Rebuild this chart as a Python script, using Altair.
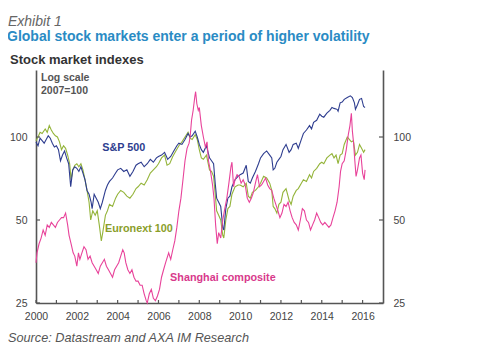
import altair as alt
import pandas as pd

# ---------------- data (2007=100, log scale) ----------------
sp_t = [2000.0, 2000.1, 2000.2, 2000.3, 2000.4, 2000.5, 2000.6, 2000.7, 2000.8, 2000.9,
        2001.0, 2001.1, 2001.2, 2001.3, 2001.4, 2001.5, 2001.6, 2001.7, 2001.8, 2001.9,
        2002.0, 2002.1, 2002.2, 2002.3, 2002.4, 2002.5, 2002.6, 2002.7, 2002.75, 2002.85,
        2002.95, 2003.05, 2003.15, 2003.25, 2003.4, 2003.5, 2003.6, 2003.75, 2003.9, 2004.0,
        2004.15, 2004.3, 2004.45, 2004.6, 2004.75, 2004.9, 2005.0, 2005.15, 2005.3, 2005.45,
        2005.6, 2005.75, 2005.9, 2006.0, 2006.15, 2006.3, 2006.45, 2006.6, 2006.75, 2006.9,
        2007.0, 2007.15, 2007.3, 2007.45, 2007.55, 2007.65, 2007.8, 2007.9, 2008.0, 2008.1,
        2008.2, 2008.35, 2008.5, 2008.6, 2008.7, 2008.78, 2008.85, 2008.95, 2009.05, 2009.15,
        2009.2, 2009.3, 2009.4, 2009.5, 2009.6, 2009.75, 2009.9, 2010.0, 2010.15, 2010.3,
        2010.4, 2010.5, 2010.6, 2010.75, 2010.9, 2011.0, 2011.15, 2011.3, 2011.45, 2011.55,
        2011.62, 2011.7, 2011.8, 2011.9, 2012.0, 2012.1, 2012.25, 2012.4, 2012.5, 2012.6,
        2012.75, 2012.85, 2013.0, 2013.1, 2013.25, 2013.4, 2013.5, 2013.6, 2013.75, 2013.9,
        2014.0, 2014.1, 2014.25, 2014.4, 2014.5, 2014.6, 2014.75, 2014.8, 2014.9, 2015.0,
        2015.1, 2015.25, 2015.4, 2015.5, 2015.6, 2015.65, 2015.75, 2015.85, 2015.95, 2016.05,
        2016.12]
sp_v = [96, 93, 99, 97, 95, 98, 101, 99, 95, 92,
        93, 90, 82, 86, 89, 84, 80, 66, 76, 78,
        77, 75, 78, 74, 70, 64, 62, 58, 55, 62,
        60, 58, 55, 58, 64, 67, 69, 71, 74, 76,
        77, 75, 76, 72, 75, 79, 80, 81, 78, 80,
        83, 81, 84, 85, 86, 88, 83, 85, 89, 93,
        95, 94, 98, 103, 100, 101, 105, 100, 94, 90,
        88, 93, 84, 82, 80, 68, 60, 58, 56, 47,
        46, 55, 60, 61, 66, 70, 72, 73, 74, 79,
        69, 68, 71, 75, 80, 84, 87, 89, 86, 84,
        76, 77, 81, 83, 85, 90, 94, 88, 90, 94,
        95, 91, 98, 103, 106, 110, 107, 113, 115, 121,
        119, 118, 122, 125, 128, 127, 126, 124, 133, 134,
        137, 139, 141, 139, 133, 126, 131, 137, 138, 129,
        128]

eu_t = [2000.0, 2000.1, 2000.2, 2000.3, 2000.45, 2000.55, 2000.65, 2000.75, 2000.85, 2000.95,
        2001.05, 2001.15, 2001.25, 2001.35, 2001.45, 2001.55, 2001.65, 2001.72, 2001.8, 2001.9,
        2002.0, 2002.1, 2002.2, 2002.3, 2002.4, 2002.5, 2002.6, 2002.68, 2002.78, 2002.9,
        2003.0, 2003.1, 2003.2, 2003.27, 2003.4, 2003.5, 2003.6, 2003.75, 2003.9, 2004.0,
        2004.15, 2004.3, 2004.45, 2004.6, 2004.75, 2004.9, 2005.0, 2005.15, 2005.3, 2005.45,
        2005.6, 2005.75, 2005.9, 2006.0, 2006.15, 2006.3, 2006.42, 2006.55, 2006.7, 2006.85,
        2007.0, 2007.15, 2007.3, 2007.45, 2007.55, 2007.65, 2007.8, 2007.9, 2008.0, 2008.1,
        2008.2, 2008.35, 2008.5, 2008.6, 2008.7, 2008.78, 2008.85, 2008.95, 2009.05, 2009.15,
        2009.2, 2009.3, 2009.4, 2009.5, 2009.6, 2009.75, 2009.9, 2010.0, 2010.15, 2010.3,
        2010.4, 2010.5, 2010.6, 2010.75, 2010.9, 2011.0, 2011.15, 2011.3, 2011.45, 2011.55,
        2011.62, 2011.7, 2011.8, 2011.9, 2012.0, 2012.1, 2012.25, 2012.4, 2012.5, 2012.6,
        2012.75, 2012.85, 2013.0, 2013.1, 2013.25, 2013.4, 2013.5, 2013.6, 2013.75, 2013.9,
        2014.0, 2014.1, 2014.25, 2014.4, 2014.5, 2014.6, 2014.7, 2014.8, 2014.9, 2015.0,
        2015.1, 2015.25, 2015.35, 2015.45, 2015.55, 2015.65, 2015.75, 2015.85, 2015.95, 2016.05,
        2016.12]
eu_v = [97, 100, 104, 103, 107, 104, 110, 106, 103, 101,
        100, 96, 90, 93, 91, 86, 80, 70, 76, 79,
        80, 78, 80, 76, 70, 64, 58, 50, 54, 52,
        54, 48, 42, 45, 52, 54, 57, 56, 60, 62,
        64, 63, 61, 60, 62, 65, 66, 68, 67, 70,
        74, 76, 78, 80, 84, 86, 79, 80, 85, 89,
        93, 96, 100, 104, 99, 98, 102, 98, 90, 84,
        83, 86, 76, 75, 72, 62, 54, 52, 50, 44,
        43, 50, 55, 56, 62, 66, 67, 67, 66, 68,
        61, 60, 63, 64, 66, 68, 72, 71, 68, 64,
        56, 55, 53, 57, 58, 63, 65, 59, 57, 61,
        64, 65, 68, 70, 69, 73, 71, 75, 77, 80,
        81, 80, 84, 86, 87, 84, 86, 80, 86, 87,
        94, 100, 98, 96, 97, 86, 88, 94, 91, 88,
        90]

sh_t = [2000.0, 2000.05, 2000.15, 2000.25, 2000.35, 2000.45, 2000.55, 2000.65, 2000.75, 2000.85,
        2000.95, 2001.05, 2001.15, 2001.25, 2001.35, 2001.45, 2001.55, 2001.62, 2001.72, 2001.82,
        2001.9, 2002.0, 2002.08, 2002.15, 2002.25, 2002.35, 2002.45, 2002.55, 2002.65, 2002.75,
        2002.85, 2002.95, 2003.05, 2003.15, 2003.25, 2003.35, 2003.45, 2003.55, 2003.65, 2003.75,
        2003.85, 2003.95, 2004.05, 2004.15, 2004.25, 2004.32, 2004.4, 2004.5, 2004.6, 2004.7,
        2004.8, 2004.9, 2005.0, 2005.1, 2005.2, 2005.3, 2005.4, 2005.45, 2005.55, 2005.65,
        2005.75, 2005.85, 2005.95, 2006.05, 2006.15, 2006.25, 2006.35, 2006.5, 2006.6, 2006.7,
        2006.8, 2006.9, 2007.0, 2007.1, 2007.2, 2007.3, 2007.4, 2007.5, 2007.55, 2007.62,
        2007.7, 2007.78, 2007.82, 2007.88, 2007.95, 2008.0, 2008.1, 2008.2, 2008.3, 2008.38,
        2008.45, 2008.55, 2008.65, 2008.72, 2008.8, 2008.88, 2008.95, 2009.05, 2009.15, 2009.25,
        2009.35, 2009.45, 2009.55, 2009.6, 2009.68, 2009.75, 2009.85, 2009.95, 2010.05, 2010.15,
        2010.25, 2010.35, 2010.45, 2010.55, 2010.65, 2010.75, 2010.85, 2010.95, 2011.05, 2011.15,
        2011.25, 2011.35, 2011.45, 2011.55, 2011.65, 2011.75, 2011.85, 2011.95, 2012.05, 2012.15,
        2012.25, 2012.35, 2012.45, 2012.55, 2012.65, 2012.75, 2012.85, 2012.95, 2013.05, 2013.15,
        2013.25, 2013.35, 2013.45, 2013.55, 2013.65, 2013.75, 2013.85, 2013.95, 2014.05, 2014.15,
        2014.25, 2014.35, 2014.45, 2014.55, 2014.65, 2014.75, 2014.85, 2014.92, 2015.0, 2015.1,
        2015.2, 2015.3, 2015.38, 2015.45, 2015.5, 2015.56, 2015.62, 2015.68, 2015.75, 2015.85,
        2015.92, 2016.0, 2016.08, 2016.12]
sh_v = [35, 38, 41, 43, 46, 44, 48, 47, 49, 48,
        47, 49, 50, 51, 51, 53, 48, 44, 41, 38,
        37, 34, 38, 36, 38, 40, 39, 36, 37, 35,
        34, 33, 32, 34, 35, 36, 34, 33, 32, 31,
        33, 34, 35, 37, 39, 38, 35, 33, 32, 33,
        31, 30, 30, 29, 29, 27, 25.5, 25, 27, 28,
        26, 25.5, 26.5, 28, 31, 33, 35, 38, 36, 39,
        42, 47, 54, 60, 70, 82, 91, 95, 100, 115,
        125, 140, 146, 132, 125, 128, 110, 100, 92, 96,
        82, 75, 67, 60, 48, 41, 45, 43, 50, 55,
        60, 68, 78, 81, 66, 70, 73, 72, 68, 70,
        67, 60, 58, 60, 63, 68, 73, 66, 67, 69,
        71, 67, 65, 64, 60, 57, 54, 51, 53, 57,
        56, 58, 54, 51, 49, 48, 46, 50, 55, 54,
        50, 49, 46, 48, 50, 53, 51, 49, 48, 49,
        48, 47, 48, 51, 54, 58, 66, 75, 80, 82,
        90, 102, 110, 122, 105, 95, 82, 72, 76, 84,
        86, 74, 70, 76]

series_names = ["Euronext 100", "S&P 500", "Shanghai composite"]
series_colors = ["#94b43a", "#2e3d8f", "#e8439a"]

year_ticks = list(range(2000, 2017))
x_labels = [2000, 2002, 2004, 2006, 2008, 2010, 2012, 2014, 2016]
y_ticks = [25, 50, 100]

label_names = ["S&P 500", "Euronext 100", "Shanghai composite"]
label_x = [2003.25, 2003.38, 2006.57]
label_y = [91.2, 46.4, 30.8]
label_colors = ["#2e3d8f", "#8a9e2a", "#d83a8c"]

# ---------------- build tables ----------------
rows = []
for name, ts, vs in [("Euronext 100", eu_t, eu_v), ("S&P 500", sp_t, sp_v),
                     ("Shanghai composite", sh_t, sh_v)]:
    for i, (t, v) in enumerate(zip(ts, vs)):
        rows.append({"year": t, "value": v, "series": name, "i": i})
df = pd.DataFrame(rows)

W, H = 347, 233
FONT = "Liberation Sans"
AX = "#555555"

xs = alt.Scale(domain=[2000, 2017], nice=False, zero=False)
ys = alt.Scale(type="log", domain=[25, 175], nice=False)

lines = alt.Chart(df).mark_line(strokeWidth=1.1).encode(
    x=alt.X("year:Q", scale=xs,
            axis=alt.Axis(values=x_labels, format="d", title=None, grid=False, ticks=False,
                          domain=True, domainColor=AX, domainWidth=1.6, labelFlush=False,
                          labelFontSize=10.5, labelColor="#444", labelFont=FONT,
                          labelPadding=8)),
    y=alt.Y("value:Q", scale=ys,
            axis=alt.Axis(values=y_ticks, format="d", title=None, grid=False, ticks=False,
                          orient="left", domain=True, domainColor=AX, domainWidth=1.6,
                          labelFontSize=10.5, labelColor="#444", labelFont=FONT,
                          labelPadding=9, labelFlush=False)),
    color=alt.Color("series:N", scale=alt.Scale(domain=series_names, range=series_colors),
                    legend=None),
    order="i:Q",
)

xt = pd.DataFrame({"t": year_ticks})
bottom_ticks = alt.Chart(xt).mark_rule(color=AX, strokeWidth=1.2).encode(
    x=alt.X("t:Q", scale=xs, axis=None),
    y=alt.value(H - 3), y2=alt.value(H),
)

yt = pd.DataFrame({"v": y_ticks})
left_ticks = alt.Chart(yt).mark_rule(color=AX, strokeWidth=1.2).encode(
    y=alt.Y("v:Q", scale=ys, axis=None),
    x=alt.value(0), x2=alt.value(4),
)
right_ticks = alt.Chart(yt).mark_rule(color=AX, strokeWidth=1.2).encode(
    y=alt.Y("v:Q", scale=ys,
            axis=alt.Axis(values=y_ticks, format="d", title=None, grid=False, ticks=False,
                          orient="right", domain=True, domainColor=AX, domainWidth=1.6,
                          labelFontSize=10.5, labelColor="#444", labelFont=FONT,
                          labelPadding=10, labelFlush=False)),
    x=alt.value(W - 4), x2=alt.value(W),
)

lab_df = pd.DataFrame({"name": label_names, "x": label_x, "y": label_y, "c": label_colors})
labels = alt.Chart(lab_df).mark_text(align="left", baseline="middle", fontWeight="bold",
                                     fontSize=10.8, font=FONT).encode(
    x=alt.X("x:Q", scale=xs, axis=None),
    y=alt.Y("y:Q", scale=ys, axis=None),
    text="name:N",
    color=alt.Color("c:N", scale=None),
)


def txt(s, x, y, size, color, weight="normal", style="normal"):
    return alt.Chart(pd.DataFrame({"s": [s]})).mark_text(
        align="left", baseline="middle", fontSize=size, color=color,
        fontWeight=weight, fontStyle=style, font=FONT,
    ).encode(text="s:N", x=alt.value(x), y=alt.value(y))


texts = [
    txt("Exhibit 1", -28, -48, 14, "#666666", style="italic"),
    txt("Global stock markets enter a period of higher volatility", -29, -33, 14,
        "#2a8bc4", weight="bold"),
    txt("Stock market indexes", -26, -10.5, 13, "#333333", weight="bold"),
    txt("Log scale", 5, 8, 10.5, "#555555", weight="bold"),
    txt("2007=100", 5, 20.5, 10.5, "#555555", weight="bold"),
    txt("Source: Datastream and AXA IM Research", -28, 268, 12.7, "#555555", style="italic"),
]

chart = alt.layer(lines, bottom_ticks, left_ticks, right_ticks, labels, *texts).resolve_axis(
    x="independent", y="independent"
).properties(
    width=W, height=H,
    autosize=alt.AutoSizeParams(type="none"),
    padding={"left": 28, "top": 62, "right": 100, "bottom": 50},
).configure(background="white").configure_view(stroke=None)

chart.save("out.html", embed_options={"renderer": "svg", "actions": False})
